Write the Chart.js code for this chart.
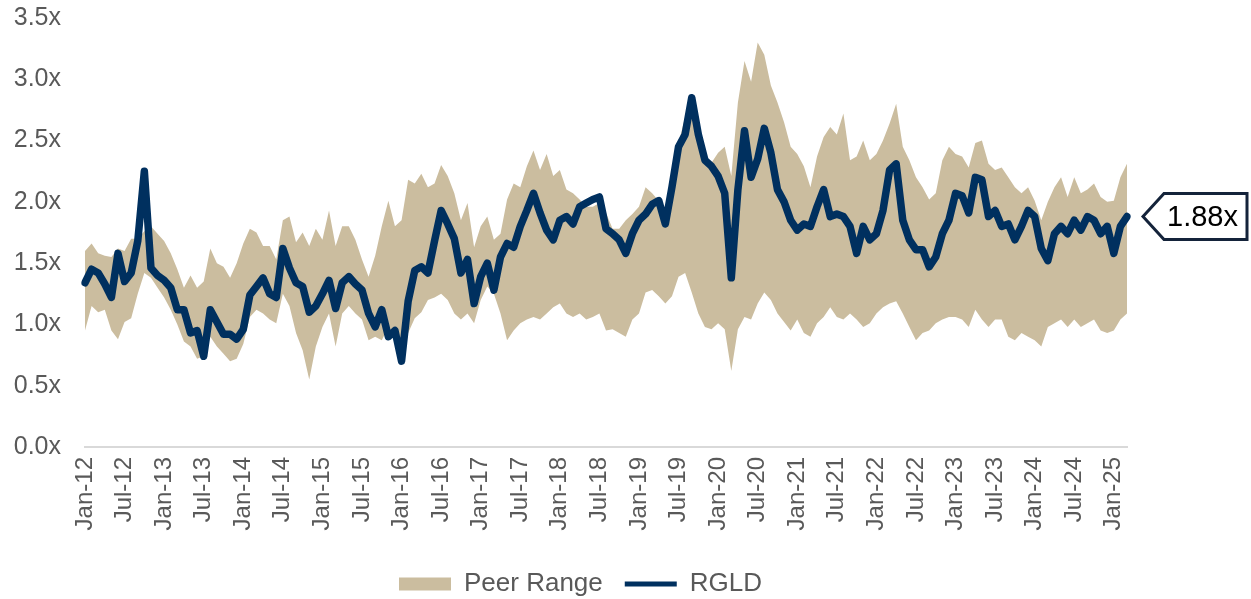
<!DOCTYPE html>
<html>
<head>
<meta charset="utf-8">
<script src="https://cdn.jsdelivr.net/npm/chart.js@4.4.1/dist/chart.umd.min.js"></script>
<style>
  html, body { margin: 0; padding: 0; background: #ffffff; }
  #wrap { width: 1251px; height: 599px; }
</style>
</head>
<body>
<div id="wrap"><canvas id="c" width="1251" height="599"></canvas></div>
<script>
// ---- Data (monthly, Jan-12 .. Mar-25) ----
const monthNames = ['Jan','Feb','Mar','Apr','May','Jun','Jul','Aug','Sep','Oct','Nov','Dec'];
const categories = [];
for (let yr = 12; yr <= 25; yr++) {
  for (let mo = 0; mo < 12; mo++) {
    if (yr === 25 && mo > 2) break;
    categories.push(monthNames[mo] + '-' + yr);
  }
}

const tickLabels = ['Jan-12','Jul-12','Jan-13','Jul-13','Jan-14','Jul-14','Jan-15','Jul-15','Jan-16','Jul-16',
  'Jan-17','Jul-17','Jan-18','Jul-18','Jan-19','Jul-19','Jan-20','Jul-20','Jan-21','Jul-21','Jan-22','Jul-22',
  'Jan-23','Jul-23','Jan-24','Jul-24','Jan-25'];

const rgld = [
  1.34,1.45,1.42,1.33,1.22,1.58,1.35,1.42,1.68,2.25,1.46,1.40,
  1.36,1.30,1.12,1.12,0.93,0.95,0.74,1.12,1.02,0.92,0.92,0.88,
  0.96,1.24,1.31,1.38,1.25,1.22,1.62,1.46,1.34,1.31,1.10,1.15,
  1.25,1.36,1.13,1.34,1.39,1.33,1.28,1.09,0.98,1.12,0.90,0.95,
  0.70,1.19,1.44,1.47,1.42,1.68,1.93,1.82,1.70,1.42,1.53,1.17,
  1.39,1.50,1.28,1.55,1.66,1.63,1.80,1.93,2.07,1.91,1.77,1.69,
  1.85,1.88,1.82,1.96,1.99,2.02,2.04,1.78,1.74,1.69,1.58,1.74,
  1.85,1.90,1.98,2.01,1.82,2.12,2.45,2.55,2.85,2.55,2.34,2.29,
  2.21,2.07,1.38,2.10,2.58,2.20,2.35,2.60,2.40,2.10,2.00,1.85,
  1.77,1.82,1.80,1.96,2.10,1.88,1.90,1.88,1.80,1.58,1.80,1.69,
  1.74,1.93,2.26,2.31,1.85,1.69,1.61,1.61,1.47,1.55,1.74,1.85,
  2.07,2.05,1.91,2.20,2.18,1.88,1.93,1.80,1.82,1.69,1.80,1.93,
  1.88,1.62,1.52,1.74,1.80,1.74,1.85,1.77,1.88,1.85,1.74,1.80,
  1.58,1.80,1.88
];

const peerHigh = [
  1.60,1.66,1.58,1.56,1.55,1.62,1.60,1.70,1.70,1.76,1.80,1.74,
  1.68,1.58,1.45,1.30,1.40,1.30,1.35,1.62,1.50,1.47,1.38,1.50,
  1.66,1.78,1.75,1.64,1.64,1.53,1.85,1.88,1.67,1.75,1.64,1.78,
  1.69,1.93,1.64,1.80,1.80,1.69,1.53,1.39,1.56,1.80,2.01,1.80,
  1.85,2.18,2.15,2.23,2.12,2.15,2.30,2.21,2.07,1.85,1.99,1.63,
  1.80,1.88,1.69,1.74,2.02,2.15,2.12,2.29,2.42,2.26,2.39,2.21,
  2.26,2.10,2.07,2.02,1.96,1.96,1.99,1.91,1.78,1.78,1.85,1.90,
  1.96,2.12,2.07,2.01,1.88,2.10,2.48,2.69,2.78,2.59,2.37,2.32,
  2.40,2.45,2.21,2.81,3.15,2.98,3.30,3.20,2.95,2.81,2.65,2.45,
  2.39,2.29,2.12,2.37,2.53,2.61,2.55,2.72,2.34,2.37,2.50,2.34,
  2.39,2.50,2.64,2.80,2.45,2.34,2.20,2.12,2.02,2.07,2.34,2.45,
  2.39,2.37,2.28,2.48,2.50,2.31,2.26,2.28,2.20,2.12,2.07,2.12,
  2.01,1.85,2.00,2.12,2.20,2.04,2.20,2.07,2.10,2.15,2.04,2.00,
  2.01,2.20,2.31
];

const peerLow = [
  0.95,1.15,1.10,1.12,0.95,0.88,1.02,1.05,1.25,1.42,1.38,1.30,
  1.22,1.12,1.00,0.86,0.82,0.72,0.74,0.90,0.82,0.76,0.70,0.72,
  0.84,1.06,1.12,1.09,1.04,1.01,1.25,1.15,0.93,0.79,0.55,0.82,
  0.98,1.09,0.82,1.09,1.15,1.09,1.04,0.87,0.90,0.87,0.98,0.93,
  0.82,0.93,1.05,1.10,1.20,1.22,1.25,1.20,1.09,1.04,1.09,1.01,
  1.20,1.31,1.25,1.09,0.87,0.95,1.01,1.04,1.06,1.04,1.09,1.14,
  1.17,1.09,1.06,1.09,1.04,1.06,1.09,0.95,0.96,0.93,0.90,1.04,
  1.09,1.26,1.28,1.23,1.17,1.23,1.39,1.42,1.26,1.09,0.98,0.96,
  1.01,0.96,0.62,0.96,1.06,1.04,1.17,1.26,1.20,1.09,1.02,0.95,
  1.04,0.93,0.90,1.01,1.06,1.14,1.06,1.04,1.09,1.04,0.98,1.01,
  1.09,1.14,1.17,1.19,1.09,0.98,0.87,0.93,0.95,1.01,1.04,1.06,
  1.06,1.04,0.98,1.12,1.04,0.98,1.04,1.04,0.90,0.87,0.93,0.90,
  0.87,0.82,0.98,1.01,1.04,0.98,1.04,0.98,1.01,1.04,0.95,0.93,
  0.95,1.04,1.09
];

const yTicks = [0, 0.5, 1.0, 1.5, 2.0, 2.5, 3.0, 3.5];

// ---- Styles ----
const TAN = '#CBBD9F';
const NAVY = '#00305F';
const GREY_TEXT = '#595959';
const FONT = "'Liberation Sans', Arial, sans-serif";

// Callout plugin for the latest RGLD value
const callout = {
  id: 'callout',
  afterDatasetsDraw(chart) {
    const ctx = chart.ctx;
    const ys = chart.scales.y;
    const xs = chart.scales.x;
    const lastIdx = rgld.length - 1;
    const val = rgld[lastIdx];
    const py = ys.getPixelForValue(val);
    const px = xs.getPixelForValue(lastIdx);
    const tipX = px + 16;
    const bodyX = tipX + 21;
    const rightX = 1247;
    const h = 46;
    ctx.save();
    ctx.beginPath();
    ctx.moveTo(tipX, py);
    ctx.lineTo(bodyX, py - h / 2);
    ctx.lineTo(rightX, py - h / 2);
    ctx.lineTo(rightX, py + h / 2);
    ctx.lineTo(bodyX, py + h / 2);
    ctx.closePath();
    ctx.fillStyle = '#ffffff';
    ctx.fill();
    ctx.lineWidth = 3;
    ctx.strokeStyle = '#14233A';
    ctx.lineJoin = 'miter';
    ctx.stroke();
    ctx.fillStyle = '#000000';
    ctx.font = '29px ' + FONT;
    ctx.textAlign = 'center';
    ctx.textBaseline = 'middle';
    ctx.fillText(val.toFixed(2) + 'x', (bodyX + rightX) / 2 - 3, py + 1);
    ctx.restore();
  }
};

const legendShift = {
  id: 'legendShift',
  afterLayout(chart) {
    const l = chart.legend;
    if (l) { l.top += 8; l.bottom += 8; l.left += 17; l.right += 17; }
  }
};

new Chart(document.getElementById('c'), {
  type: 'line',
  data: {
    labels: categories,
    datasets: [
      {
        label: 'Peer Range',
        data: peerHigh,
        borderWidth: 0,
        borderColor: TAN,
        backgroundColor: TAN,
        fill: '+1',
        pointRadius: 0,
        pointStyle: 'rect',
        tension: 0,
        order: 1
      },
      {
        label: '_low',
        data: peerLow,
        borderWidth: 0,
        borderColor: 'rgba(0,0,0,0)',
        backgroundColor: 'rgba(0,0,0,0)',
        fill: false,
        pointRadius: 0,
        tension: 0,
        order: 2
      },
      {
        label: 'RGLD',
        data: rgld,
        borderColor: NAVY,
        backgroundColor: NAVY,
        borderWidth: 7.5,
        borderJoinStyle: 'round',
        borderCapStyle: 'round',
        pointRadius: 0,
        pointStyle: 'line',
        fill: false,
        tension: 0,
        order: 0
      }
    ]
  },
  options: {
    responsive: false,
    animation: false,
    devicePixelRatio: 1,
    layout: { padding: { left: 0, right: 124, top: 18, bottom: 0 } },
    plugins: {
      tooltip: { enabled: false },
      legend: {
        position: 'bottom',
        labels: {
          usePointStyle: true,
          pointStyleWidth: 52,
          boxHeight: 13,
          padding: 22,
          color: GREY_TEXT,
          font: { family: FONT, size: 26 },
          generateLabels: (chart) => {
            const items = Chart.defaults.plugins.legend.labels.generateLabels(chart);
            items.forEach(it => { if (it.text === 'RGLD') it.lineWidth = 5; });
            return items;
          },
          filter: (item) => item.text !== '_low',
          sort: (a, b) => a.datasetIndex - b.datasetIndex
        }
      }
    },
    scales: {
      x: {
        type: 'category',
        offset: false,
        grid: { display: false, drawTicks: false },
        border: { display: true, color: '#D9D9D9', width: 2 },
        afterBuildTicks: (s) => {
          s.ticks = s.ticks.filter(t => tickLabels.includes(categories[t.value]));
        },
        afterFit: (s) => { s.height = 94; },
        ticks: {
          autoSkip: false,
          minRotation: 90,
          maxRotation: 90,
          padding: 10,
          color: GREY_TEXT,
          font: { family: FONT, size: 24 },
          callback: function (value) { return categories[value]; }
        }
      },
      y: {
        min: 0,
        max: 3.5,
        afterBuildTicks: (s) => { s.ticks = yTicks.map(v => ({ value: v })); },
        afterFit: (s) => { s.width = 85; s.paddingTop = 0; s.paddingBottom = 0; },
        grid: { display: false, drawTicks: false },
        border: { display: false },
        ticks: {
          padding: 24,
          color: GREY_TEXT,
          font: { family: FONT, size: 25 },
          callback: (v) => Number(v).toFixed(1) + 'x'
        }
      }
    }
  },
  plugins: [callout, legendShift]
});
</script>
</body>
</html>
